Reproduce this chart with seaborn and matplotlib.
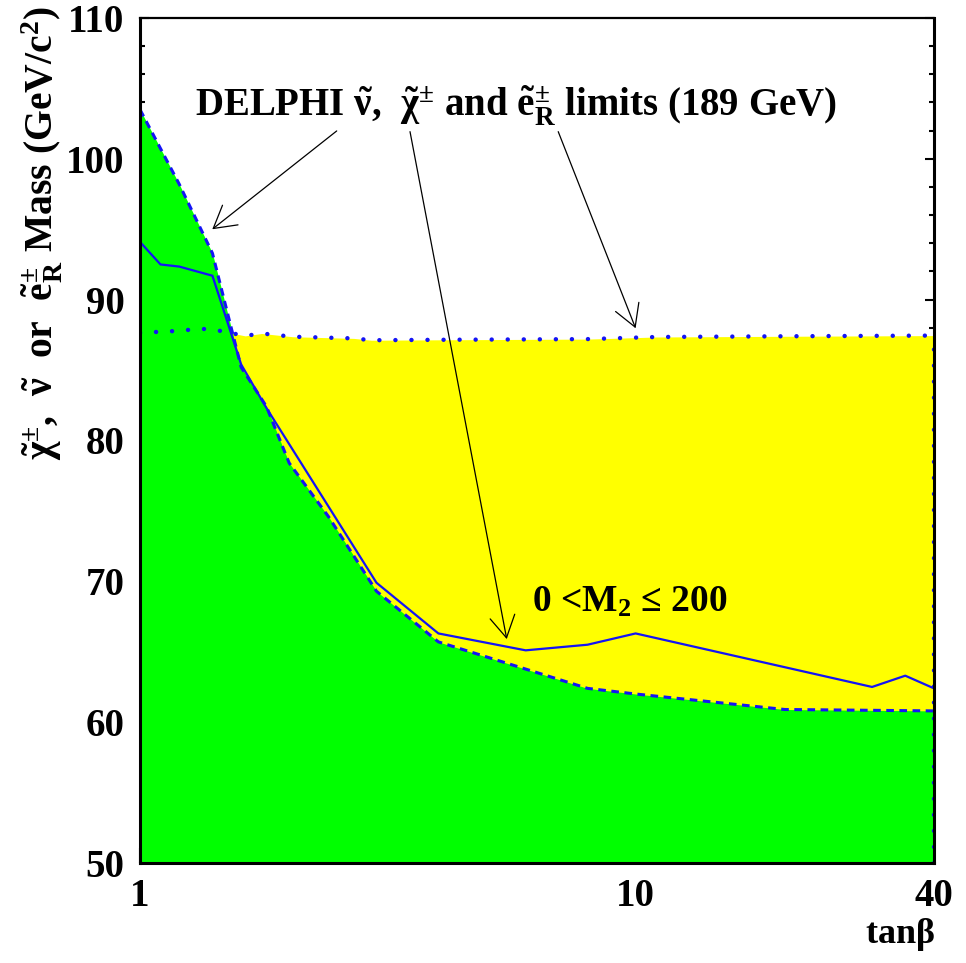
import matplotlib
matplotlib.use("Agg")
import matplotlib.pyplot as plt
from matplotlib.ticker import FixedLocator, FixedFormatter, NullFormatter
import seaborn as sns
import pandas as pd

# ---- data ----
chargino_tanb = [1, 1.1, 1.2, 1.4, 1.6, 1.8, 3, 4, 6, 8, 10, 30, 35, 40]
chargino_mass = [94.1, 92.5, 92.35, 91.7, 85.4, 82.3, 69.9, 66.3, 65.1, 65.5, 66.3, 62.5, 63.3, 62.4]

sneutrino_tanb = [1, 1.2, 1.4, 1.6, 1.8, 2.0, 2.4, 3, 4, 8, 10, 20, 40]
sneutrino_mass = [103.5, 98.2, 93.3, 85.2, 82.4, 78.4, 74.6, 69.3, 65.7, 62.4, 62.0, 60.9, 60.8]

selectron_tanb = [1, 1.22, 1.31, 1.42, 1.63, 1.76, 2.03, 2.7, 2.93, 4, 8, 11, 20, 40]
selectron_mass = [87.65, 87.8, 87.95, 87.85, 87.43, 87.6, 87.37, 87.25, 87.12, 87.15, 87.2, 87.35, 87.4, 87.45]

x_ticks = [1, 10, 40]
x_tick_labels = ["1", "10", "40"]
x_minor = [2, 3, 4, 5, 6, 7, 8, 9, 20, 30]
y_ticks = [50, 60, 70, 80, 90, 100, 110]
y_minor = list(range(50, 111, 2))

title_text = r"DELPHI $\tilde{\nu}$,  $\tilde{\chi}^{\pm}$ and $\tilde{e}^{\pm}_{R}$ limits (189 GeV)"
ylabel_text = r"$\tilde{\chi}^{\pm}$,  $\tilde{\nu}$  or  $\tilde{e}^{\pm}_{R}$ Mass (GeV/c$^{2}$)"
xlabel_text = r"tan$\beta$"
region_text = r"0 <M$_{2}$ ≤ 200"

# ---- style ----
sns.set_style("ticks")
plt.rcParams["font.family"] = ["Liberation Serif", "DejaVu Serif"]
plt.rcParams["font.weight"] = "bold"
plt.rcParams["text.color"] = "black"
plt.rcParams["axes.labelcolor"] = "black"
plt.rcParams["xtick.color"] = "black"
plt.rcParams["ytick.color"] = "black"
plt.rcParams["mathtext.fontset"] = "custom"
plt.rcParams["mathtext.rm"] = "Liberation Serif:bold"
plt.rcParams["mathtext.it"] = "Liberation Serif:bold"
plt.rcParams["mathtext.bf"] = "Liberation Serif:bold"
plt.rcParams["mathtext.default"] = "rm"

BLUE = "#1414f5"
GREEN = "#00ff00"
YELLOW = "#ffff00"

fig = plt.figure(figsize=(9.66, 9.63), dpi=100)
ax = fig.add_axes([140 / 966, 1 - 863 / 963, 794 / 966, 845 / 963])
ax.set_xscale("log")
ymin, ymax = 50, 110
xmin, xmax = 1, 40

# fills
ax.fill_between(selectron_tanb, ymin, selectron_mass, color=YELLOW, lw=0, zorder=1)
ax.fill_between(sneutrino_tanb, ymin, sneutrino_mass, color=GREEN, lw=0, zorder=2)

# polygon edges along the frame
ax.axvline(xmin, ymax=(sneutrino_mass[0] - ymin) / (ymax - ymin), color=BLUE, lw=2,
           ls=(0, (2.5, 1.8)), zorder=3)
ax.axvline(xmax, ymax=(selectron_mass[-1] - ymin) / (ymax - ymin), color=BLUE, lw=3.2,
           ls=(0, (0.01, 3.6)), dash_capstyle="round", zorder=3)

df_c = pd.DataFrame({"tanb": chargino_tanb, "mass": chargino_mass})
df_n = pd.DataFrame({"tanb": sneutrino_tanb, "mass": sneutrino_mass})
df_e = pd.DataFrame({"tanb": selectron_tanb, "mass": selectron_mass})

sns.lineplot(data=df_n, x="tanb", y="mass", ax=ax, color=BLUE, lw=2.2,
             linestyle=(0, (2.5, 1.8)), sort=False, zorder=4)
sns.lineplot(data=df_e, x="tanb", y="mass", ax=ax, color=BLUE, lw=3.2,
             linestyle=(0, (0.01, 3.6)), dash_capstyle="round", sort=False, zorder=4)
sns.lineplot(data=df_c, x="tanb", y="mass", ax=ax, color=BLUE, lw=1.6,
             sort=False, zorder=5)

ax.set_xlim(xmin, xmax)
ax.set_ylim(ymin, ymax)
ax.set_xlabel("")
ax.set_ylabel("")

ax.xaxis.set_major_locator(FixedLocator(x_ticks))
ax.xaxis.set_major_formatter(FixedFormatter(x_tick_labels))
ax.xaxis.set_minor_locator(FixedLocator(x_minor))
ax.xaxis.set_minor_formatter(NullFormatter())
ax.yaxis.set_major_locator(FixedLocator(y_ticks))
ax.yaxis.set_minor_locator(FixedLocator(y_minor))

ax.tick_params(axis="both", which="both", direction="in", top=False, right=True,
               width=1.5, colors="black", labelsize=28)
ax.tick_params(axis="x", which="major", length=11, pad=11)
ax.tick_params(axis="x", which="minor", length=6)
ax.tick_params(axis="y", which="major", length=6.5, pad=11)
ax.tick_params(axis="y", which="minor", length=3.3)
for lab in ax.get_xticklabels() + ax.get_yticklabels():
    lab.set_fontweight("bold")
    lab.set_color("black")

for s in ax.spines.values():
    s.set_linewidth(2.2)
    s.set_color("black")
    s.set_zorder(10)
ax.spines["top"].set_linewidth(1.6)

# texts
fig.text(516 / 966, 1 - 117 / 963, title_text, ha="center", va="baseline",
         fontsize=28, fontweight="bold", color="black")
fig.text(532 / 966, 1 - 612 / 963, region_text, ha="left", va="baseline",
         fontsize=27, fontweight="bold", color="black")
fig.text(935 / 966, 1 - 943 / 963, xlabel_text, ha="right", va="baseline",
         fontsize=26, fontweight="bold", color="black")
fig.text(42 / 966, 1 - 7 / 963, ylabel_text, ha="center", va="top", rotation=90,
         fontsize=28.5, fontweight="bold", color="black")

# arrows
arrow = dict(arrowstyle="->,head_length=1.56,head_width=0.9", mutation_scale=10,
             lw=0.9, color="black", shrinkA=0, shrinkB=0)
ax.annotate("", xy=(1.399, 95.0), xytext=(2.494, 101.98), arrowprops=arrow, zorder=6)
ax.annotate("", xy=(5.495, 65.9), xytext=(3.506, 101.93), arrowprops=arrow, zorder=6)
ax.annotate("", xy=(10.0, 87.97), xytext=(6.98, 101.93), arrowprops=arrow, zorder=6)

fig.savefig("out.png", dpi=100)
